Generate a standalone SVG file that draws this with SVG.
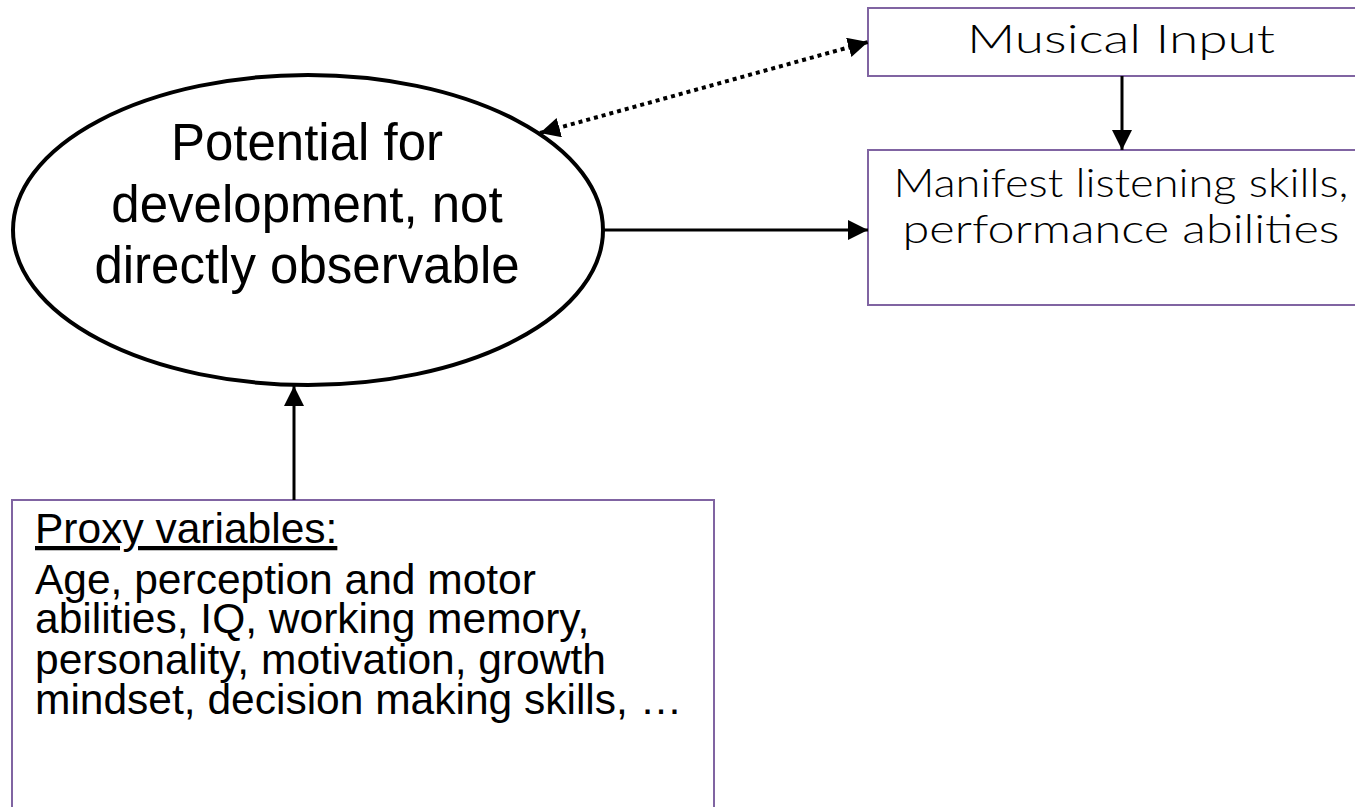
<svg xmlns="http://www.w3.org/2000/svg" width="1355" height="807" viewBox="0 0 1355 807">
<style>
  .box { fill: #ffffff; stroke: #8064A2; stroke-width: 2; }
  .ell { fill: #ffffff; stroke: #000000; stroke-width: 4; }
  .gothic { font-family: "Lato", "Liberation Sans", sans-serif; font-weight: 300; font-size: 39px; fill: #000; text-anchor: middle; }
  .arial { font-family: "Liberation Sans", Arial, sans-serif; fill: #000; }
  .conn { stroke: #000; stroke-width: 3; fill: none; }
  .dot { stroke: #000; stroke-width: 4; fill: none; stroke-dasharray: 4 4; }
</style>
<defs>
  <marker id="ah" markerUnits="userSpaceOnUse" markerWidth="20" markerHeight="20" viewBox="0 0 16 16" refX="16" refY="8" orient="auto-start-reverse">
    <path d="M0,0 L16,8 L0,16 Z" fill="#000"/>
  </marker>
</defs>
<rect width="1355" height="807" fill="#ffffff"/>

<g id="musical-input">
  <rect class="box" x="868" y="8" width="520" height="68"/>
  <text class="gothic" x="1121" y="53" textLength="308" lengthAdjust="spacingAndGlyphs">Musical Input</text>
</g>

<g id="manifest">
  <rect class="box" x="868" y="150" width="520" height="155"/>
  <text class="gothic" x="1121" y="197" textLength="455" lengthAdjust="spacingAndGlyphs">Manifest listening skills,</text>
  <text class="gothic" x="1121" y="243" textLength="437" lengthAdjust="spacingAndGlyphs">performance abilities</text>
</g>

<g id="potential">
  <ellipse class="ell" cx="308" cy="230" rx="295" ry="155"/>
  <text class="arial" font-size="51" text-anchor="middle" x="307" y="160">Potential for</text>
  <text class="arial" font-size="51" text-anchor="middle" x="307" y="222">development, not</text>
  <text class="arial" font-size="51" text-anchor="middle" x="307" y="283">directly observable</text>
</g>

<g id="proxy">
  <rect class="box" x="12" y="500" width="702" height="330"/>
  <text class="arial" font-size="42.5" x="35" y="543" text-decoration="underline">Proxy variables:</text>
  <text class="arial" font-size="42.5" x="35" y="594">Age, perception and motor</text>
  <text class="arial" font-size="42.5" x="35" y="633">abilities, IQ, working memory,</text>
  <text class="arial" font-size="42.5" x="35" y="674">personality, motivation, growth</text>
  <text class="arial" font-size="42.5" x="35" y="714">mindset, decision making skills, …</text>
</g>

<g id="connectors">
  <line class="dot" x1="540" y1="133" x2="868" y2="42" marker-start="url(#ah)" marker-end="url(#ah)"/>
  <line class="conn" x1="1122" y1="76" x2="1122" y2="150" marker-end="url(#ah)"/>
  <line class="conn" x1="603" y1="230" x2="868" y2="230" marker-end="url(#ah)"/>
  <line class="conn" x1="294" y1="500" x2="294" y2="386" marker-end="url(#ah)"/>
</g>
</svg>
